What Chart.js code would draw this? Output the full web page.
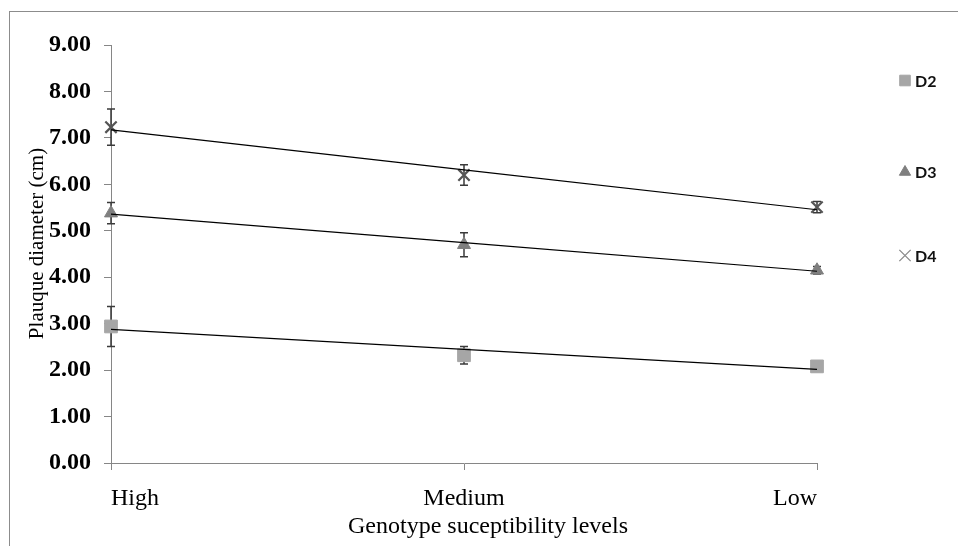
<!DOCTYPE html>
<html>
<head>
<meta charset="utf-8">
<script src="https://cdn.jsdelivr.net/npm/chart.js@4.4.1/dist/chart.umd.min.js"></script>
<style>
  html, body { margin: 0; padding: 0; background: #fff; }
  #wrap { position: relative; width: 958px; height: 546px; overflow: hidden; }
  #frame { position: absolute; left: 9px; top: 11px; width: 2000px; height: 2000px;
           border-left: 1px solid #8c8c8c; border-top: 1px solid #8c8c8c; box-sizing: border-box; }
  canvas { position: absolute; left: 0; top: 0; }
</style>
</head>
<body>
<div id="wrap">
  <div id="frame"></div>
  <canvas id="c" width="958" height="546"></canvas>
</div>
<script>
// ---- data ----
const categories = ['High', 'Medium', 'Low'];
const seriesNames = ['D2', 'D3', 'D4'];
const d2Values = [2.94, 2.32, 2.08];
const d2Errors = [0.43, 0.19, 0.10];
const d3Values = [5.38, 4.70, 4.15];
const d3Errors = [0.23, 0.26, 0.08];
const d4Values = [7.23, 6.20, 5.51];
const d4Errors = [0.39, 0.22, 0.12];
const yTicks = [0, 1, 2, 3, 4, 5, 6, 7, 8, 9];

// linear trendline (least squares over category index), as in the original
function trend(vals) {
  const n = vals.length;
  const xs = vals.map((_, i) => i);
  const mx = xs.reduce((a, b) => a + b, 0) / n;
  const my = vals.reduce((a, b) => a + b, 0) / n;
  let sxy = 0, sxx = 0;
  xs.forEach((x, i) => { sxy += (x - mx) * (vals[i] - my); sxx += (x - mx) * (x - mx); });
  const b = sxy / sxx, a = my - b * mx;
  return xs.map(x => a + b * x);
}

const markerDatasets = [
  { label: seriesNames[0], data: d2Values, errors: d2Errors, pointStyle: 'rect', pointRadius: 9,
    backgroundColor: '#a6a6a6', borderColor: '#a6a6a6', borderWidth: 1, legendRadius: 7.5 },
  { label: seriesNames[1], data: d3Values, errors: d3Errors, pointStyle: 'triangle', pointRadius: 7.5,
    backgroundColor: '#7f7f7f', borderColor: '#7f7f7f', borderWidth: 1, legendRadius: 6.5 },
  { label: seriesNames[2], data: d4Values, errors: d4Errors, pointStyle: 'crossRot', pointRadius: 8,
    backgroundColor: '#555555', borderColor: '#555555', borderWidth: 2.2, legendRadius: 8, legendBorder: '#8a8a8a', legendWidth: 1.3 }
].map(d => Object.assign({ showLine: false, order: 1, pointHoverRadius: d.pointRadius }, d));

const trendDatasets = [d2Values, d3Values, d4Values].map((v, i) => ({
  label: seriesNames[i] + ' trend', data: trend(v), isTrend: true, order: 0,
  borderColor: '#000', borderWidth: 1.2, pointRadius: 0, showLine: true, fill: false
}));

const errorBars = {
  id: 'errorBars',
  beforeDatasetsDraw(chart) {
    const { ctx } = chart;
    const y = chart.scales.y;
    chart.data.datasets.forEach((ds, i) => {
      if (!ds.errors) return;
      const meta = chart.getDatasetMeta(i);
      meta.data.forEach((pt, j) => {
        const v = ds.data[j], e = ds.errors[j];
        const yt = y.getPixelForValue(v + e), yb = y.getPixelForValue(v - e);
        ctx.save();
        ctx.strokeStyle = '#3a3a3a';
        ctx.lineWidth = 1.5;
        ctx.beginPath();
        ctx.moveTo(pt.x, yt); ctx.lineTo(pt.x, yb);
        ctx.moveTo(pt.x - 4, yt); ctx.lineTo(pt.x + 4, yt);
        ctx.moveTo(pt.x - 4, yb); ctx.lineTo(pt.x + 4, yb);
        ctx.stroke();
        ctx.restore();
      });
    });
  }
};

const legendRows = [80.5, 172, 255.5];
const sideLegend = {
  id: 'sideLegend',
  afterDraw(chart) {
    const { ctx, chartArea } = chart;
    chart.data.datasets.forEach((ds, i) => {
      if (ds.isTrend) return;
      const mx = chartArea.right + 88;
      const my = legendRows[i];
      ctx.save();
      ctx.fillStyle = ds.backgroundColor;
      ctx.strokeStyle = ds.legendBorder || ds.borderColor;
      ctx.lineWidth = ds.legendWidth || 1;
      Chart.helpers.drawPoint(ctx, { pointStyle: ds.pointStyle, radius: ds.legendRadius, borderWidth: ctx.lineWidth, rotation: 0 }, mx, my);
      ctx.fillStyle = '#111';
      ctx.font = 'bold 16px Lato';
      ctx.textBaseline = 'middle';
      ctx.textAlign = 'left';
      ctx.fillText(ds.label, mx + 10, my + 1);
      ctx.restore();
    });
  }
};

new Chart(document.getElementById('c'), {
  type: 'line',
  data: { labels: categories, datasets: [...markerDatasets, ...trendDatasets] },
  options: {
    responsive: false,
    animation: false,
    devicePixelRatio: 1,
    layout: { padding: { left: 10, top: 45, right: 141, bottom: 3 } },
    plugins: { legend: { display: false }, tooltip: { enabled: false }, title: { display: false } },
    scales: {
      x: {
        type: 'category',
        offset: false,
        grid: { drawOnChartArea: false, drawTicks: true, tickLength: 7, color: '#868686' },
        border: { display: true, color: '#868686', width: 1 },
        ticks: { align: 'inner', padding: 14, color: '#000', font: { family: 'Liberation Serif', size: 24 } },
        title: { display: true, text: '        Genotype suceptibility levels', color: '#000',
                 font: { family: 'Liberation Serif', size: 24 }, padding: { top: 0, bottom: 1.5 } },
        afterFit(s) { s.height = 80; }
      },
      y: {
        min: 0, max: 9,
        afterBuildTicks(s) { s.ticks = yTicks.map(v => ({ value: v })); },
        grid: { drawOnChartArea: false, drawTicks: true, tickLength: 7, color: '#868686' },
        border: { display: true, color: '#868686', width: 1 },
        ticks: { padding: 13, color: '#000', font: { family: 'Liberation Serif', size: 24, weight: 'bold' },
                 callback: v => Number(v).toFixed(2) },
        title: { display: true, text: '    Plauque diameter (cm)', color: '#000',
                 font: { family: 'Liberation Serif', size: 21 }, padding: { top: 15, bottom: 0 } },
        afterFit(s) { s.width = 101; }
      }
    }
  },
  plugins: [errorBars, sideLegend]
});
</script>
</body>
</html>
